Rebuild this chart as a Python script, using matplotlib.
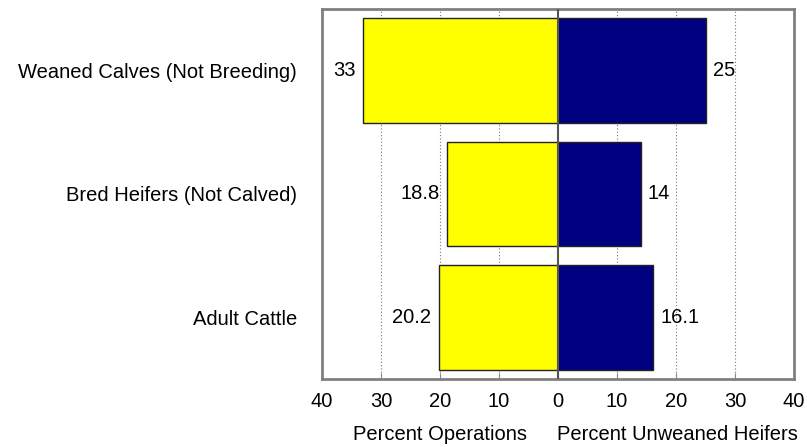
import numpy as np
import matplotlib.pyplot as plt

plt.rcParams['font.family'] = ['Liberation Sans', 'DejaVu Sans']

# data
categories = ['Weaned Calves (Not Breeding)', 'Bred Heifers (Not Calved)', 'Adult Cattle']
pct_operations = [33, 18.8, 20.2]
pct_heifers = [25, 14, 16.1]
value_labels_ops = ['33', '18.8', '20.2']
value_labels_heif = ['25', '14', '16.1']
tick_values = [-40, -30, -20, -10, 0, 10, 20, 30, 40]
tick_labels = ['40', '30', '20', '10', '0', '10', '20', '30', '40']

fig = plt.figure(figsize=(8.07, 4.47), dpi=100)
ax = fig.add_axes([0.399, 0.152, 0.585, 0.828])

y = np.arange(len(categories))
bar_h = 0.85
fs = 14.5

# gridlines
for t in [-30, -20, -10, 10, 20, 30]:
    ax.axvline(t, color='#777777', linestyle=(0, (1, 2)), linewidth=0.8, zorder=0)

ax.barh(y, [-v for v in pct_operations], height=bar_h, color='#ffff00',
        edgecolor='#222222', linewidth=1.0, zorder=2)
ax.barh(y, pct_heifers, height=bar_h, color='#000080',
        edgecolor='#222222', linewidth=1.0, zorder=2)

ax.axvline(0, color='#555555', linewidth=1.5, zorder=3)

# value labels
for yi, v, s in zip(y, pct_operations, value_labels_ops):
    ax.text(-v - 1.3, yi, s, ha='right', va='center', fontsize=fs)
for yi, v, s in zip(y, pct_heifers, value_labels_heif):
    ax.text(v + 1.2, yi, s, ha='left', va='center', fontsize=fs)

ax.set_xlim(-40, 40)
ax.set_ylim(2.5, -0.5)
ax.set_xticks(tick_values)
ax.set_xticklabels(tick_labels, fontsize=fs)
ax.set_yticks(y)
ax.set_yticklabels(categories, fontsize=fs)
ax.tick_params(axis='y', length=0, pad=18)
ax.tick_params(axis='x', direction='in', length=4, color='#888888', pad=9)

for sp in ax.spines.values():
    sp.set_color('#808080')
    sp.set_linewidth(2)

fig.text(440 / 807, 1 - 435 / 447, 'Percent Operations', ha='center', va='center', fontsize=fs)
fig.text(677 / 807, 1 - 435 / 447, 'Percent Unweaned Heifers', ha='center', va='center', fontsize=fs)

fig.savefig('out.png', dpi=100)
